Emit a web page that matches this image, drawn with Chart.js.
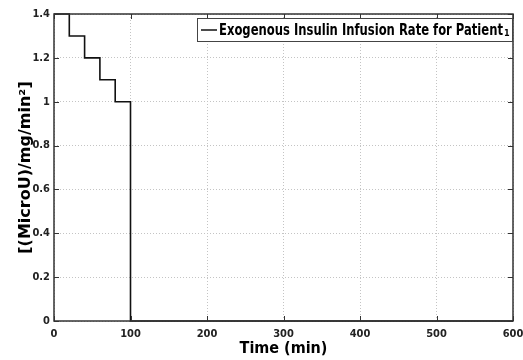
<!DOCTYPE html>
<html>
<head>
<meta charset="utf-8">
<script src="https://cdn.jsdelivr.net/npm/chart.js@4.4.0/dist/chart.umd.min.js"></script>
<style>
  html, body { margin: 0; padding: 0; background: #fff; }
  #wrap { width: 523px; height: 360px; }
</style>
</head>
<body>
<div id="wrap"><canvas id="insulinCanvas" width="523" height="360"></canvas></div>
<script>
// step times (min) and infusion rate values
var timeMin = [0, 20, 40, 60, 80, 100, 600];
var infusionRate = [1.4, 1.3, 1.2, 1.1, 1.0, 0, 0];
var xTicks = [0, 100, 200, 300, 400, 500, 600];
var yTicks = [0, 0.2, 0.4, 0.6, 0.8, 1, 1.2, 1.4];
var seriesLabel = "Exogenous Insulin Infusion Rate for Patient";
var seriesSub = "1";

var narrow = "'Liberation Sans Narrow', 'DejaVu Sans Condensed', sans-serif";

var points = [];
for (var i = 0; i < timeMin.length; i++) {
	points.push({ x: timeMin[i], y: infusionRate[i] });
}

// box round the axes and small inside ticks, matlab style
var axesBox = {
	id: "axesBox",
	afterDatasetsDraw: function (chart) {
		var c = chart.ctx, a = chart.chartArea;
		var xs = chart.scales.x, ys = chart.scales.y;
		c.save();
		c.strokeStyle = "#333";
		c.lineWidth = 1;
		c.beginPath();
		xTicks.forEach(function (v) {
			var px = Math.round(xs.getPixelForValue(v)) + 0.5;
			c.moveTo(px, a.bottom); c.lineTo(px, a.bottom - 5);
			c.moveTo(px, a.top); c.lineTo(px, a.top + 5);
		});
		yTicks.forEach(function (v) {
			var py = Math.round(ys.getPixelForValue(v)) + 0.5;
			c.moveTo(a.left, py); c.lineTo(a.left + 5, py);
			c.moveTo(a.right, py); c.lineTo(a.right - 5, py);
		});
		c.stroke();
		c.lineWidth = 1.5;
		c.strokeRect(a.left, a.top, a.right - a.left, a.bottom - a.top);
		c.restore();
	}
};

// legend box in the upper right corner
var legendBox = {
	id: "legendBox",
	afterDraw: function (chart) {
		var c = chart.ctx, a = chart.chartArea;
		var right = a.right, left = 197, top = 18, bottom = 42;
		c.save();
		c.fillStyle = "#fff";
		c.fillRect(left, top, right - left, bottom - top);
		c.strokeStyle = "#444";
		c.lineWidth = 1;
		c.strokeRect(left + 0.5, top + 0.5, right - left - 1, bottom - top - 1);
		c.strokeStyle = "#111";
		c.lineWidth = 1.5;
		c.beginPath();
		c.moveTo(201, 30); c.lineTo(217, 30);
		c.stroke();
		c.fillStyle = "#000";
		c.textBaseline = "alphabetic";
		c.font = "bold 16px " + narrow;
		var w = c.measureText(seriesLabel).width;
		var target = 284;
		c.save();
		c.translate(219, 35);
		c.scale(target / w, 1);
		c.fillText(seriesLabel, 0, 0);
		c.restore();
		c.font = "bold 9px " + narrow;
		c.fillText(seriesSub, 219 + target + 1, 36);
		c.restore();
	}
};

var ctx = document.getElementById("insulinCanvas");
var insulinChart = new Chart(ctx, {
	type: "line",
	data: {
		datasets: [{
			label: seriesLabel + seriesSub,
			data: points,
			stepped: "before",
			borderColor: "#111",
			borderWidth: 1.6,
			pointRadius: 0,
			fill: false,
			clip: false
		}]
	},
	options: {
		responsive: false,
		animation: false,
		layout: { padding: { top: 14, right: 10, left: 0, bottom: 0 } },
		plugins: {
			legend: { display: false },
			tooltip: { enabled: false }
		},
		scales: {
			x: {
				type: "linear",
				min: 0,
				max: 600,
				afterBuildTicks: function (s) { s.ticks = xTicks.map(function (v) { return { value: v }; }); },
				afterFit: function (s) { s.height = 39; s.paddingLeft = 0; s.paddingRight = 0; },
				grid: { color: "#c4c4c4", drawTicks: false, lineWidth: 1 },
				border: { display: false, dash: [1, 2] },
				ticks: {
					padding: 7,
					color: "#222",
					maxRotation: 0,
					font: { family: narrow, size: 11, weight: "bold" }
				},
				title: {
					display: true,
					text: "Time (min)",
					color: "#000",
					padding: { top: 0, bottom: 2 },
					font: { family: narrow, size: 16, weight: "bold" }
				}
			},
			y: {
				type: "linear",
				min: 0,
				max: 1.4,
				afterBuildTicks: function (s) { s.ticks = yTicks.map(function (v) { return { value: v }; }); },
				afterFit: function (s) { s.width = 54; s.paddingTop = 0; s.paddingBottom = 0; },
				grid: { color: "#c4c4c4", drawTicks: false, lineWidth: 1 },
				border: { display: false, dash: [1, 2] },
				ticks: {
					padding: 4,
					color: "#222",
					font: { family: narrow, size: 11, weight: "bold" },
					callback: function (v) { return String(Math.round(v * 10) / 10); }
				},
				title: {
					display: true,
					text: "[(MicroU)/mg/min\u00b2]",
					color: "#000",
					padding: { top: 16, bottom: 0 },
					font: { family: "'DejaVu Sans', sans-serif", size: 16, weight: "bold" }
				}
			}
		}
	},
	plugins: [axesBox, legendBox]
});
</script>
</body>
</html>
